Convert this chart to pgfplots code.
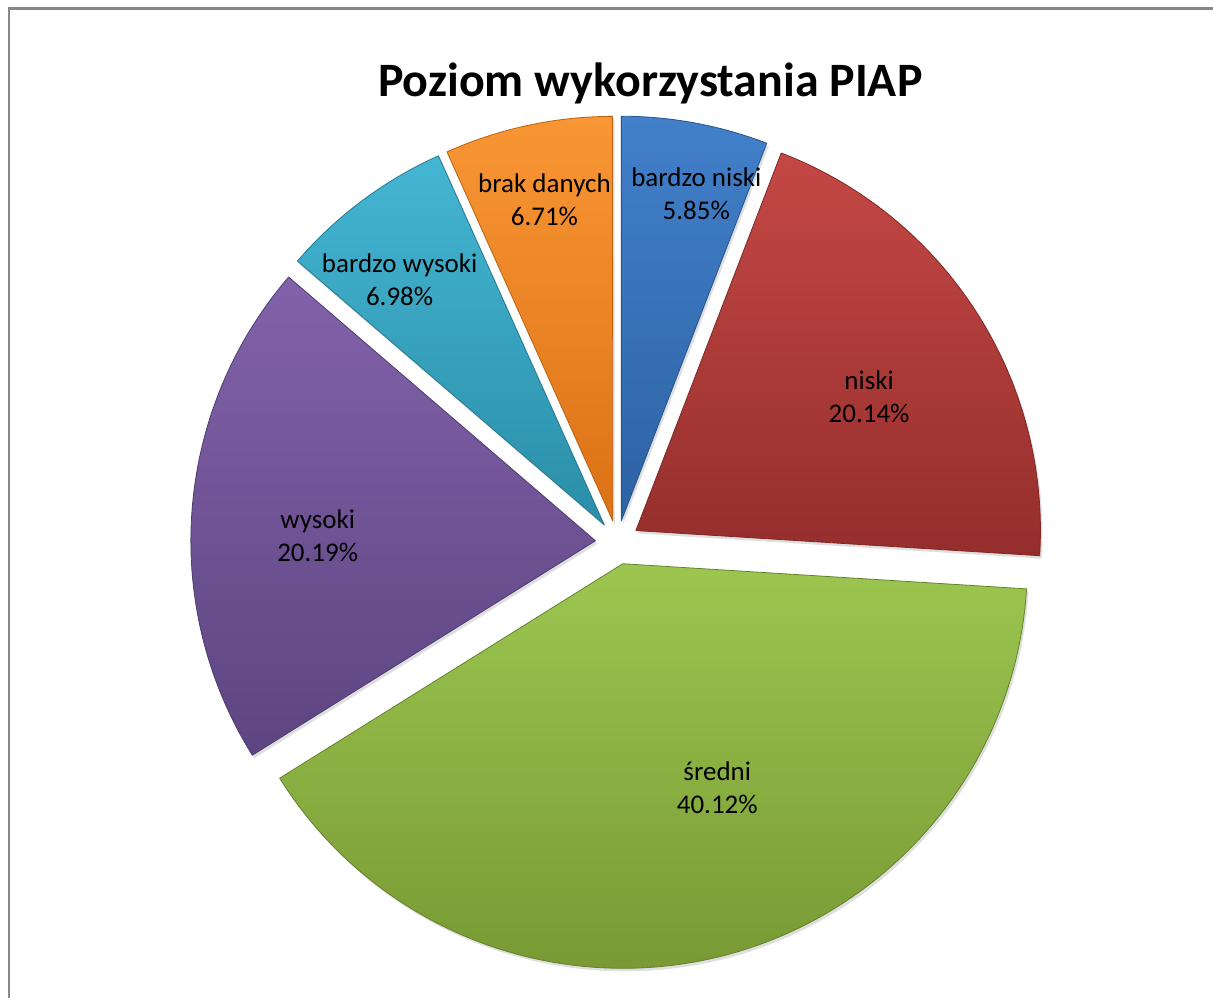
\documentclass[border=0pt]{standalone}
\usepackage{pgfplots}
\pgfplotsset{compat=1.18}
\usepackage{pgfplotstable}
\usepackage{fontspec}
\setmainfont{Carlito}
\usetikzlibrary{shadows}

\definecolor{t0}{HTML}{4280CA}\definecolor{b0}{HTML}{2D62A3}
\definecolor{t1}{HTML}{C44845}\definecolor{b1}{HTML}{942E2C}
\definecolor{t2}{HTML}{9CC650}\definecolor{b2}{HTML}{779833}
\definecolor{t3}{HTML}{8262AA}\definecolor{b3}{HTML}{5D4581}
\definecolor{t4}{HTML}{44B6D3}\definecolor{b4}{HTML}{2B8EA8}
\definecolor{t5}{HTML}{F99634}\definecolor{b5}{HTML}{DB7216}
\definecolor{framegray}{RGB}{136,136,136}

% value (%), label, label position (pixels from left / from top)
\pgfplotstableread[col sep=comma]{
value,name,lx,ly
5.85,bardzo niski,697,194
20.14,niski,870,397.5
40.12,średni,718,788.5
20.19,wysoki,318,536
6.98,bardzo wysoki,400,280
6.71,brak danych,545,200
}\piedata

\begin{document}
\begin{tikzpicture}
\xdef\cum{0}
\foreach \i in {0,...,5}{
  \pgfplotstablegetelem{\i}{value}\of\piedata \let\v\pgfplotsretval
  \pgfmathsetmacro\sa{90-3.6*\cum}
  \pgfmathsetmacro\ea{\sa-3.6*\v}
  \pgfmathsetmacro\ma{(\sa+\ea)/2}
  \pgfmathsetmacro\ax{618+22*cos(\ma)}
  \pgfmathsetmacro\ay{456+22*sin(\ma)}
  \pgfmathsetmacro\newcum{\cum+\v}
  \xdef\cum{\newcum}
  \expandafter\xdef\csname sa\i\endcsname{\sa}
  \expandafter\xdef\csname ea\i\endcsname{\ea}
  \expandafter\xdef\csname ax\i\endcsname{\ax}
  \expandafter\xdef\csname ay\i\endcsname{\ay}
  \expandafter\xdef\csname val\i\endcsname{\v}
  \pgfplotstablegetelem{\i}{name}\of\piedata
  \expandafter\xdef\csname nm\i\endcsname{\pgfplotsretval}
  \pgfplotstablegetelem{\i}{lx}\of\piedata
  \expandafter\xdef\csname lx\i\endcsname{\pgfplotsretval}
  \pgfplotstablegetelem{\i}{ly}\of\piedata
  \pgfmathsetmacro\lyy{999-\pgfplotsretval}
  \expandafter\xdef\csname ly\i\endcsname{\lyy}
}
\begin{axis}[scale only axis, width=1214pt, height=999pt,
  xmin=0, xmax=1214, ymin=0, ymax=999, hide axis, clip=false]
\path (axis cs:0,0) (axis cs:1214,999);
\draw[framegray, line width=2.5pt] (axis cs:9,0) -- (axis cs:9,990.5) -- (axis cs:1214,990.5);
\node[anchor=base, font=\bfseries\fontsize{48}{58}\selectfont] at (axis cs:651,902) {Poziom wykorzystania PIAP};
\pgfplotsinvokeforeach{0,...,5}{
  \shade[top color=t#1, bottom color=b#1,
    drop shadow={opacity=0.25, shadow xshift=2pt, shadow yshift=-3pt},
    draw=b#1!85!black, line width=0.8pt, line join=round]
   (axis cs:\csname ax#1\endcsname,\csname ay#1\endcsname)
   -- ++(\csname sa#1\endcsname:405pt)
   arc[start angle=\csname sa#1\endcsname, end angle=\csname ea#1\endcsname, radius=405pt]
   -- cycle;
}
\pgfplotsinvokeforeach{0,...,5}{
  \node[align=center, font=\fontsize{27}{33}\selectfont, inner sep=0pt]
    at (axis cs:\csname lx#1\endcsname,\csname ly#1\endcsname)
    {\csname nm#1\endcsname\\\csname val#1\endcsname\%};
}
\end{axis}
\end{tikzpicture}
\end{document}
